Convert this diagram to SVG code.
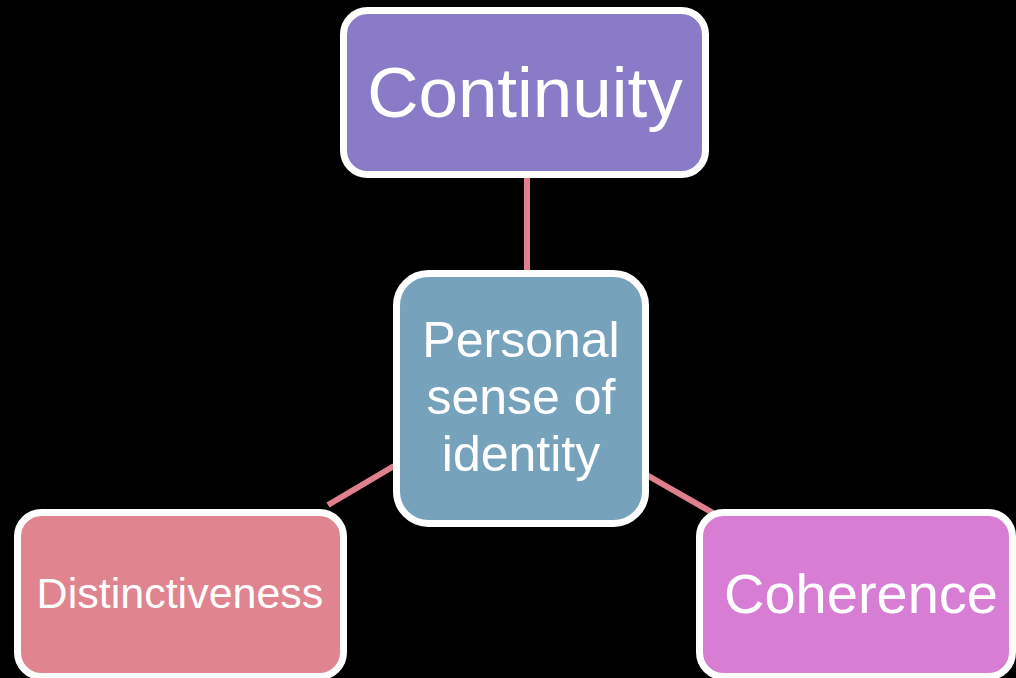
<svg xmlns="http://www.w3.org/2000/svg" width="1016" height="678" viewBox="0 0 1016 678">
<style>
.box{stroke:#FFFFFF;stroke-width:7}
.lbl{fill:#FFFFFF;font-family:"Liberation Sans",Arial,sans-serif;text-anchor:middle}
.conn{stroke:#E0808F;stroke-width:6;fill:none}
</style>
<rect width="1016" height="678" fill="#000000"/>
<g id="connectors">
<line class="conn" x1="527" y1="176" x2="527" y2="272"/>
<line class="conn" x1="328" y1="505" x2="394" y2="466"/>
<line class="conn" x1="645" y1="474" x2="713" y2="513"/>
</g>
<g id="continuity">
<rect class="box" x="343.5" y="10.5" width="362" height="164" rx="24" fill="#8A7BC8"/>
<text class="lbl" x="525" y="117" font-size="71">Continuity</text>
</g>
<g id="identity">
<rect class="box" x="396.5" y="273.5" width="249" height="250" rx="32" fill="#76A3BB"/>
<text class="lbl" x="521" y="357" font-size="50">Personal</text>
<text class="lbl" x="521" y="414" font-size="50">sense of</text>
<text class="lbl" x="521" y="471" font-size="50">identity</text>
</g>
<g id="distinctiveness">
<rect class="box" x="17.5" y="512.5" width="326" height="164" rx="24" fill="#E08490"/>
<text class="lbl" x="180" y="608" font-size="43">Distinctiveness</text>
</g>
<g id="coherence">
<rect class="box" x="699.5" y="512.5" width="313" height="164" rx="24" fill="#D77DD4"/>
<text class="lbl" x="861" y="613" font-size="56">Coherence</text>
</g>
</svg>
